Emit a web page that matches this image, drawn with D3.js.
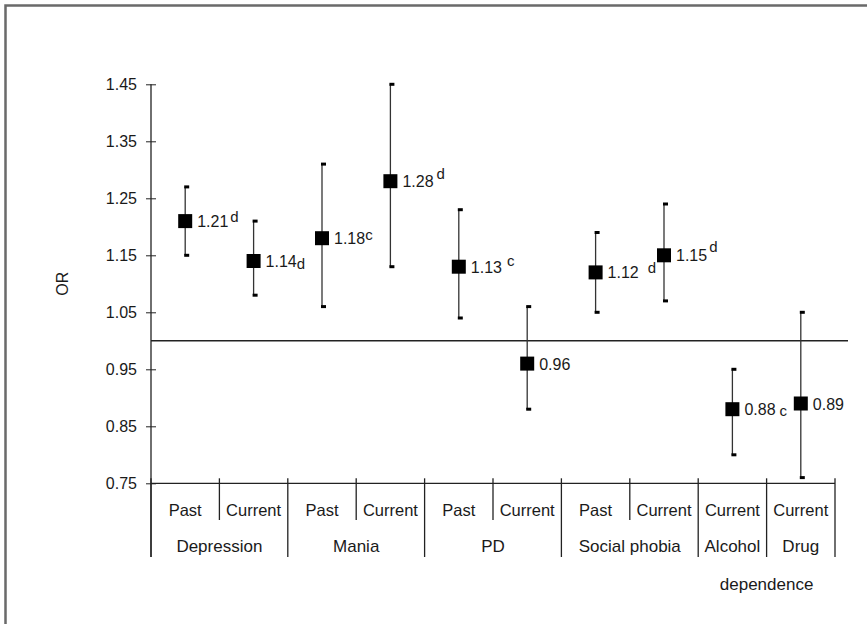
<!DOCTYPE html>
<html lang="en">
<head>
    <meta charset="UTF-8">
    <title>OR</title>
    <script src="https://d3js.org/d3.v7.min.js"></script>
    <style>
        body { margin: 0; background: #fff; }
        text { font-family: Arial, "Liberation Sans", sans-serif; fill: #1a1a1a; }
    </style>
</head>
<body>
<script>
    // data
    var subLabels = ["Past", "Current", "Past", "Current", "Past", "Current", "Past", "Current", "Current", "Current"];
    var groups = ["Depression", "Mania", "PD", "Social phobia", "Alcohol", "Drug"];
    var groupSize = [2, 2, 2, 2, 1, 1];
    var orValues = [1.21, 1.14, 1.18, 1.28, 1.13, 0.96, 1.12, 1.15, 0.88, 0.89];
    var lowerCI = [1.15, 1.08, 1.06, 1.13, 1.04, 0.88, 1.05, 1.07, 0.80, 0.76];
    var upperCI = [1.27, 1.21, 1.31, 1.45, 1.23, 1.06, 1.19, 1.24, 0.95, 1.05];
    var sigMarks = ["d", "d", "c", "d", "c", "", "d", "d", "c", ""];
    var yTicks = [0.75, 0.85, 0.95, 1.05, 1.15, 1.25, 1.35, 1.45];
    var refValue = 1.0;

    // where the little letter sits next to each number (dx, dy)
    var markShift = [[2, -5], [0, 2], [0, -4], [3, -8], [5, -7], [0, 0], [9, -5], [2, -9], [4, 1], [0, 0]];

    var width = 867,
            height = 624;

    var svg = d3.select("body").append("svg")
            .attr("width", width)
            .attr("height", height);

    // frame (only top and left edges show)
    svg.append("path")
            .attr("d", "M5.5," + height + "V5.5H" + width)
            .attr("fill", "none")
            .attr("stroke", "#6a6a6a")
            .attr("stroke-width", 2.5);

    var x = d3.scaleBand()
            .domain(d3.range(orValues.length))
            .range([151, 835]);

    var y = d3.scaleLinear()
            .domain([0.75, 1.45])
            .range([483.3, 84.3]);

    var axisY = x.range()[0];
    var baseY = y(0.75);

    // y axis
    var yAxis = svg.append("g")
            .attr("transform", "translate(" + axisY + ",0)")
            .call(d3.axisLeft(y).tickValues(yTicks).tickFormat(d3.format(".2f")).tickSize(0).tickPadding(14));
    yAxis.select(".domain").remove();
    yAxis.selectAll("text")
            .style("font-size", "16px")
            .style("font-family", "Arial, 'Liberation Sans', sans-serif")
            .attr("fill", "#1a1a1a");
    yAxis.selectAll(".tick").append("line")
            .attr("x1", -5)
            .attr("x2", 5)
            .attr("stroke", "#222");

    svg.append("line")
            .attr("x1", axisY).attr("x2", axisY)
            .attr("y1", y(1.45)).attr("y2", 557)
            .attr("stroke", "#222").attr("stroke-width", 1.3);

    svg.append("text")
            .attr("transform", "translate(68," + (y(1.1)) + ") rotate(-90)")
            .attr("text-anchor", "middle")
            .style("font-size", "16px")
            .text("OR");

    // x axis line and category dividers
    svg.append("line")
            .attr("x1", axisY).attr("x2", x.range()[1])
            .attr("y1", baseY).attr("y2", baseY)
            .attr("stroke", "#222").attr("stroke-width", 1.3);

    var groupStart = [];
    var k = 0;
    groupSize.forEach(function (n) {
        groupStart.push(k);
        k += n;
    });

    var edges = d3.range(orValues.length + 1);
    svg.selectAll(".divider")
            .data(edges)
            .enter()
            .append("line")
            .attr("class", "divider")
            .attr("x1", function (i) { return i < orValues.length ? x(i) : x.range()[1]; })
            .attr("x2", function (i) { return i < orValues.length ? x(i) : x.range()[1]; })
            .attr("y1", baseY - 5)
            .attr("y2", function (i) {
                return (groupStart.indexOf(i) >= 0 || i == orValues.length) ? 557 : 520;
            })
            .attr("stroke", "#222")
            .attr("stroke-width", 1.3);

    svg.selectAll(".sub")
            .data(subLabels)
            .enter()
            .append("text")
            .attr("class", "sub")
            .attr("x", function (d, i) { return x(i) + x.bandwidth() / 2; })
            .attr("y", 516)
            .attr("text-anchor", "middle")
            .style("font-size", "16.5px")
            .text(function (d) { return d; });

    svg.selectAll(".grp")
            .data(groups)
            .enter()
            .append("text")
            .attr("class", "grp")
            .attr("x", function (d, i) {
                return x(groupStart[i]) + x.bandwidth() * groupSize[i] / 2;
            })
            .attr("y", 552)
            .attr("text-anchor", "middle")
            .style("font-size", "17px")
            .text(function (d) { return d; });

    svg.append("text")
            .attr("x", x(9))
            .attr("y", 590)
            .attr("text-anchor", "middle")
            .style("font-size", "17px")
            .attr("fill", "#333")
            .text("dependence");

    // reference line at OR = 1
    svg.append("line")
            .attr("x1", axisY).attr("x2", 848)
            .attr("y1", y(refValue)).attr("y2", y(refValue))
            .attr("stroke", "#222").attr("stroke-width", 1.4);

    // error bars
    var pts = svg.append("g").selectAll("g")
            .data(orValues)
            .enter()
            .append("g")
            .attr("transform", function (d, i) {
                return "translate(" + (x(i) + x.bandwidth() / 2) + ",0)";
            });

    pts.append("line")
            .attr("x1", 0).attr("x2", 0)
            .attr("y1", function (d, i) { return y(upperCI[i]); })
            .attr("y2", function (d, i) { return y(lowerCI[i]); })
            .attr("stroke", "#333")
            .attr("stroke-width", 1.3);

    pts.append("rect")
            .attr("x", -1).attr("width", 5).attr("height", 3)
            .attr("y", function (d, i) { return y(upperCI[i]) - 1.5; })
            .attr("fill", "#000");

    pts.append("rect")
            .attr("x", -1).attr("width", 5).attr("height", 3)
            .attr("y", function (d, i) { return y(lowerCI[i]) - 1.5; })
            .attr("fill", "#000");

    pts.append("rect")
            .attr("x", -7).attr("width", 14).attr("height", 14)
            .attr("y", function (d) { return y(d) - 7; })
            .attr("fill", "#000");

    var lbl = pts.append("text")
            .attr("x", 12)
            .attr("y", function (d) { return y(d) + 6; })
            .style("font-size", "16px");

    lbl.append("tspan")
            .text(function (d) { return d3.format(".2f")(d); });

    lbl.append("tspan")
            .attr("dx", function (d, i) { return markShift[i][0]; })
            .attr("dy", function (d, i) { return markShift[i][1]; })
            .style("font-size", "15px")
            .text(function (d, i) { return sigMarks[i]; });
</script>
</body>
</html>
